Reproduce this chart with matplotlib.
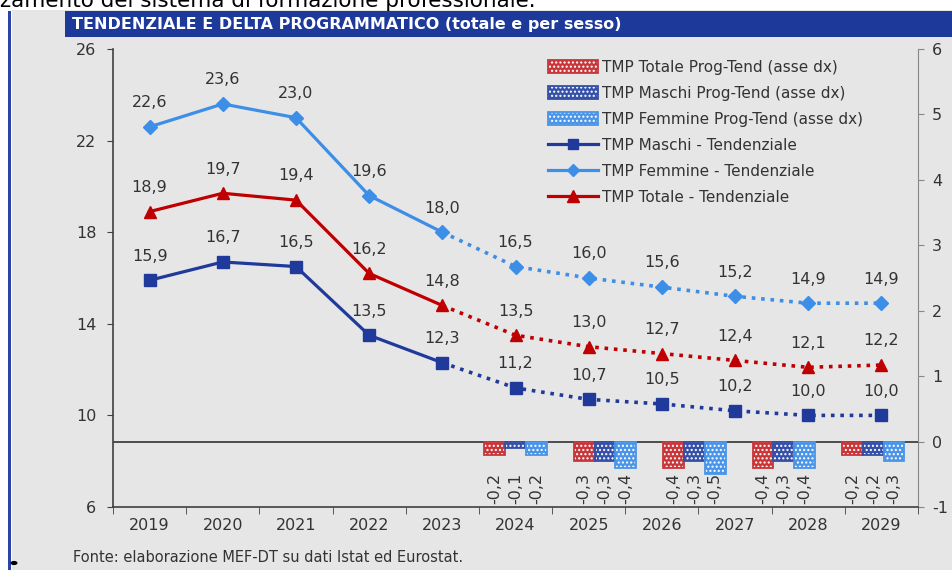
import numpy as np
import matplotlib
matplotlib.use("Agg")
import matplotlib.pyplot as plt
from matplotlib.patches import Patch, Rectangle, Circle
from matplotlib.lines import Line2D
from matplotlib.legend_handler import HandlerTuple

plt.rcParams["axes.unicode_minus"] = False

# --- data ---
years = ["2019", "2020", "2021", "2022", "2023", "2024", "2025", "2026", "2027", "2028", "2029"]
femmine = [22.6, 23.6, 23.0, 19.6, 18.0, 16.5, 16.0, 15.6, 15.2, 14.9, 14.9]
totale = [18.9, 19.7, 19.4, 16.2, 14.8, 13.5, 13.0, 12.7, 12.4, 12.1, 12.2]
maschi = [15.9, 16.7, 16.5, 13.5, 12.3, 11.2, 10.7, 10.5, 10.2, 10.0, 10.0]

# delta bars sit on their own (secondary) category axis in the original
bar_years = ["2021", "2022", "2023", "2024", "2025", "2026", "2027", "2028", "2029"]
d_totale = [np.nan, np.nan, np.nan, np.nan, -0.2, -0.3, -0.4, -0.4, -0.2]
d_maschi = [np.nan, np.nan, np.nan, np.nan, -0.1, -0.3, -0.3, -0.3, -0.2]
d_femmine = [np.nan, np.nan, np.nan, np.nan, -0.2, -0.4, -0.5, -0.4, -0.3]

RED = "#c00000"
NAVY = "#1f3a9a"
LIGHT = "#3d8ee6"
BAR_RED = "#c8363a"
BAR_NAVY = "#3450a8"
BAR_LIGHT = "#4a95e8"
TXT = "#333333"

def fmt(v):
    return ("%.1f" % v).replace(".", ",")

fig = plt.figure(figsize=(9.53, 5.7), dpi=100)
fig.patch.set_facecolor("white")

# gray panel, left blue rule, header bar
fig.patches.append(Rectangle((12/953, 0), 1, 1 - 10/570, transform=fig.transFigure,
                             facecolor="#e6e6e6", edgecolor="none", zorder=-10))
fig.patches.append(Rectangle((8.5/953, 0), 2.5/953, 1 - 11/570, transform=fig.transFigure,
                             facecolor="#2a44a8", edgecolor="none", zorder=-5))
fig.patches.append(Rectangle((65/953, 1 - 37/570), 1, 26/570, transform=fig.transFigure,
                             facecolor="#1d3a9b", edgecolor="none", zorder=-5))
fig.patches.append(Circle((14/953, 1 - 563/570), 3.5/953, transform=fig.transFigure,
                          facecolor="black", edgecolor="none", zorder=-5))
fig.text(72/953, 1 - 24/570, "TENDENZIALE E DELTA PROGRAMMATICO (totale e per sesso)",
         color="white", fontsize=11.5, fontweight="bold", va="center", ha="left")
fig.text(0.0, 1 - 7/570, "zamento del sistema di formazione professionale.",
         color="black", fontsize=15.5, va="baseline", ha="left")
fig.text(73/953, 1 - 557/570, "Fonte: elaborazione MEF-DT su dati Istat ed Eurostat.",
         color=TXT, fontsize=10.5, va="center", ha="left")

ax = fig.add_axes([113/953, 1 - 507/570, (918 - 113)/953, (507 - 49)/570])
ax.set_facecolor("none")
ax2 = ax.twinx()
ax3 = ax2.twiny()

x = np.arange(len(years))

# lines (left axis)
for vals, col, mk, ms in [(femmine, LIGHT, "D", 7), (totale, RED, "^", 9), (maschi, NAVY, "s", 8.5)]:
    ax.plot(x[:5], vals[:5], color=col, lw=2.3, zorder=4)
    ax.plot(x[4:], vals[4:], color=col, lw=2.6, ls=(0, (1, 1.6)), zorder=4)
    ax.plot(x, vals, ls="none", marker=mk, ms=ms, color=col, zorder=5)
    for xi, v in zip(x, vals):
        ax.annotate(fmt(v), (xi, v), xytext=(0, 12), textcoords="offset points",
                    ha="center", va="bottom", fontsize=11.5, color=TXT)

ax.set_xlim(-0.5, len(years) - 0.5)
ax.set_ylim(6, 26)
ax.set_yticks([6, 10, 14, 18, 22, 26])
ax.set_xticks(x)
ax.set_xticklabels(years)
ax.set_xticks(np.arange(len(years) + 1) - 0.5, minor=True)
ax.tick_params(axis="x", which="major", length=0, pad=8, labelsize=11.5, labelcolor=TXT)
ax.tick_params(axis="x", which="minor", length=5, direction="out", color="#404040")
ax.tick_params(axis="y", length=4, direction="out", color="#404040", labelsize=11.5,
               labelcolor=TXT, pad=8)
for s in ["top", "right"]:
    ax.spines[s].set_visible(False)
ax.spines["left"].set_color("#404040")
ax.spines["bottom"].set_color("#404040")
ax.spines["left"].set_linewidth(1.2)
ax.spines["bottom"].set_linewidth(1.2)

# right axis
ax2.set_ylim(-1, 6)
ax2.set_yticks(range(-1, 7))
ax2.tick_params(axis="y", length=4, direction="out", color="#888888", labelsize=11.5,
                labelcolor=TXT, pad=6)
for s in ["top", "left", "bottom"]:
    ax2.spines[s].set_visible(False)
ax2.spines["right"].set_color("#888888")
ax2.axhline(0, color="#404040", lw=1.3, zorder=3)

# bars (secondary category axis)
bx = np.arange(len(bar_years))
w = 0.232
for off, vals, col in [(-w, d_totale, BAR_RED), (0, d_maschi, BAR_NAVY), (w, d_femmine, BAR_LIGHT)]:
    ax3.bar(bx + off, vals, w, color=col, edgecolor="white", hatch="....", lw=0, zorder=2)
    ax3.bar(bx + off, vals, w, fill=False, edgecolor=col, lw=1.3, zorder=3)
    for xi, v in zip(bx, vals):
        if not np.isnan(v):
            ax3.text(xi + off, -0.71, fmt(v), rotation=90, ha="center", va="center",
                     fontsize=11.5, color=TXT)
ax3.set_xlim(-0.5, len(bar_years) - 0.5)
ax3.set_xticks([])
for s in ax3.spines.values():
    s.set_visible(False)

ax.set_zorder(ax2.get_zorder() + 2)

def bar_handle(col):
    return (Patch(facecolor=col, edgecolor="white", hatch="....", lw=0),
            Patch(fill=False, edgecolor=col, lw=1.3))

handles = [
    bar_handle(BAR_RED),
    bar_handle(BAR_NAVY),
    bar_handle(BAR_LIGHT),
    Line2D([], [], color=NAVY, lw=2.3, marker="s", ms=7),
    Line2D([], [], color=LIGHT, lw=2.3, marker="D", ms=6),
    Line2D([], [], color=RED, lw=2.3, marker="^", ms=8),
]
labels = [
    "TMP Totale Prog-Tend (asse dx)",
    "TMP Maschi Prog-Tend (asse dx)",
    "TMP Femmine Prog-Tend (asse dx)",
    "TMP Maschi - Tendenziale",
    "TMP Femmine - Tendenziale",
    "TMP Totale - Tendenziale",
]
fig.legend(handles, labels, loc="upper left", bbox_to_anchor=(548/953, 1 - 60/570),
           frameon=False, fontsize=11, handlelength=3.3, handleheight=0.95,
           handletextpad=0.25, labelspacing=0.72, labelcolor=TXT, borderaxespad=0,
           borderpad=0, handler_map={tuple: HandlerTuple(ndivide=1, pad=0)})

fig.savefig("out.png", dpi=100)
